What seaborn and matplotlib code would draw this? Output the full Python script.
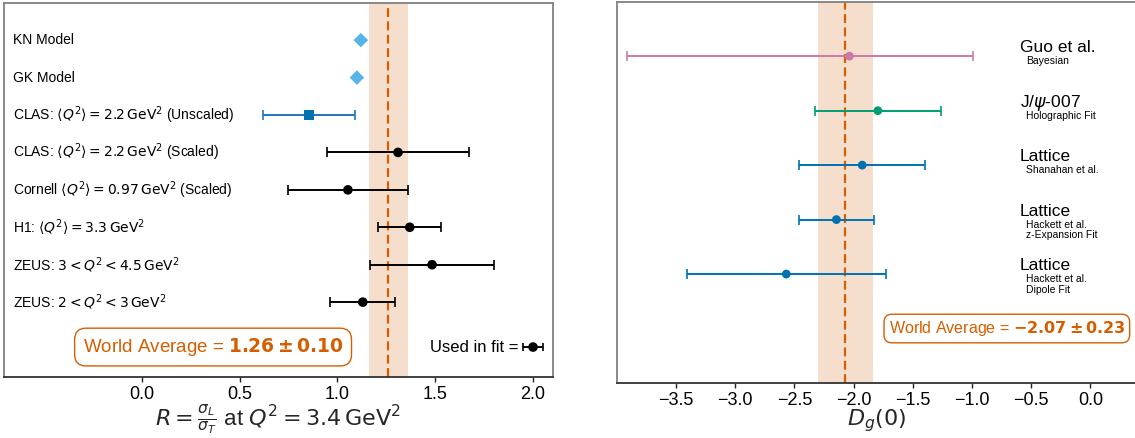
import numpy as np
import pandas as pd
import matplotlib
matplotlib.use("Agg")
import matplotlib.pyplot as plt
import seaborn as sns

# ---------------- data ----------------
left_labels = [
    "KN Model",
    "GK Model",
    r"CLAS: $\langle Q^2\rangle = 2.2\,\mathrm{GeV}^2$ (Unscaled)",
    r"CLAS: $\langle Q^2\rangle = 2.2\,\mathrm{GeV}^2$ (Scaled)",
    r"Cornell $\langle Q^2\rangle = 0.97\,\mathrm{GeV}^2$ (Scaled)",
    r"H1: $\langle Q^2\rangle = 3.3\,\mathrm{GeV}^2$",
    r"ZEUS: $3 < Q^2 < 4.5\,\mathrm{GeV}^2$",
    r"ZEUS: $2 < Q^2 < 3\,\mathrm{GeV}^2$",
]
left_values = [1.12, 1.10, 0.855, 1.31, 1.054, 1.37, 1.484, 1.13]
left_errors = [np.nan, np.nan, 0.235, 0.365, 0.308, 0.16, 0.316, 0.167]
left_kind = ["Model", "Model", "Unscaled", "Fit", "Fit", "Fit", "Fit", "Fit"]
left_avg, left_avg_err = 1.26, 0.10
legend_value, legend_err = 2.0, 0.05

right_main = ["Guo et al.", r"J/$\psi$-007", "Lattice", "Lattice", "Lattice"]
right_sub = ["Bayesian", "Holographic Fit", "Shanahan et al.",
             "Hackett et al.\nz-Expansion Fit", "Hackett et al.\nDipole Fit"]
right_values = [-2.035, -1.795, -1.927, -2.145, -2.568]
right_err_lo = [1.88, 0.53, 0.53, 0.32, 0.84]
right_err_hi = [1.04, 0.53, 0.53, 0.32, 0.84]
right_group = ["Guo", "Jpsi", "Lattice", "Lattice", "Lattice"]
right_avg, right_avg_err = -2.07, 0.23

left_ticks = [0.0, 0.5, 1.0, 1.5, 2.0]
right_ticks = [-3.5, -3.0, -2.5, -2.0, -1.5, -1.0, -0.5, 0.0]

# ---------------- style ----------------
sns.set_theme(style="white")
plt.rcParams["font.family"] = ["Liberation Sans", "DejaVu Sans"]
plt.rcParams["mathtext.fontset"] = "dejavusans"

ORANGE = "#D55E00"
SKY = "#56B4E9"
BLUE = "#0072B2"
GREEN = "#009E73"
PINK = "#CC79A7"

W, H = 1135, 438
fig = plt.figure(figsize=(W / 100, H / 100), dpi=100)

def frac(x0, y0, x1, y1):
    return [x0 / W, 1 - y1 / H, (x1 - x0) / W, (y1 - y0) / H]

axL = fig.add_axes(frac(3.5, 2.7, 553, 377))
axR = fig.add_axes(frac(616.7, 1.7, 1137.0, 383))

for ax in (axL, axR):
    for s in ("left", "top", "right"):
        ax.spines[s].set_color("#808080")
        ax.spines[s].set_linewidth(1.3)
    ax.spines["bottom"].set_color("#333333")
    ax.spines["bottom"].set_linewidth(1.3)
    ax.set_yticks([])
    ax.tick_params(axis="x", direction="out", length=3.5, width=1.0,
                   colors="#222222", labelsize=13, bottom=True, pad=3)
    for lab in ax.get_xticklabels():
        lab.set_color("black")

# ---------------- left panel ----------------
ny = len(left_labels)
left_y = [9 - i for i in range(ny)]
dfL = pd.DataFrame({"x": left_values, "y": left_y, "kind": left_kind,
                    "err": left_errors})

axL.axvspan(left_avg - left_avg_err, left_avg + left_avg_err,
            color=ORANGE, alpha=0.2, lw=0, zorder=0)
axL.axvline(left_avg, color=ORANGE, ls=(0, (4, 2)), lw=1.6, zorder=1)

fit = dfL[dfL.kind == "Fit"]
axL.errorbar(fit.x, fit.y, xerr=fit.err, fmt="none", ecolor="black",
             elinewidth=1.4, capsize=3.5, capthick=1.2, zorder=2)
uns = dfL[dfL.kind == "Unscaled"]
axL.errorbar(uns.x, uns.y, xerr=uns.err, fmt="none", ecolor="#1f78c0",
             elinewidth=1.4, capsize=3.5, capthick=1.2, zorder=2)

sns.scatterplot(data=dfL, x="x", y="y", hue="kind", style="kind",
                palette={"Model": SKY, "Unscaled": BLUE, "Fit": "black"},
                markers={"Model": "D", "Unscaled": "s", "Fit": "o"},
                size="kind", sizes={"Model": 55, "Unscaled": 50, "Fit": 48},
                edgecolor="none", legend=False, ax=axL, zorder=3)

for lab, y in zip(left_labels, left_y):
    axL.text(-0.66, y, lab, ha="left", va="center", fontsize=10, color="black")

# used-in-fit legend
ly = 0.8
axL.errorbar([legend_value], [ly], xerr=[legend_err], fmt="none",
             ecolor="black", elinewidth=1.4, capsize=3, capthick=1.2, zorder=2)
sns.scatterplot(x=[legend_value], y=[ly], color="black", s=48,
                edgecolor="none", legend=False, ax=axL, zorder=3)
axL.text(1.925, ly, "Used in fit =", ha="right", va="center", fontsize=12,
         color="black")

axL.text(0.365, ly,
         r"World Average = $\mathbf{%.2f \pm %.2f}$" % (left_avg, left_avg_err),
         ha="center", va="center", fontsize=13.5, color=ORANGE,
         bbox=dict(boxstyle="round,pad=0.42,rounding_size=0.6", fc="white",
                   ec=ORANGE, lw=1.0))

axL.set_xlim(-0.706, 2.102)
axL.set_ylim(0, 10)
axL.set_xticks(left_ticks)
axL.set_xticklabels([f"{t:.1f}" for t in left_ticks])
axL.set_xlabel(r"$R = \frac{\sigma_L}{\sigma_T}$ at $Q^2 = 3.4\,\mathrm{GeV}^2$",
               fontsize=16, labelpad=-1)
axL.set_ylabel("")

# ---------------- right panel ----------------
right_y = [5 - i for i in range(len(right_main))]
dfR = pd.DataFrame({"x": right_values, "y": right_y, "group": right_group,
                    "lo": right_err_lo, "hi": right_err_hi})
palR = {"Guo": PINK, "Jpsi": GREEN, "Lattice": BLUE}

axR.axvspan(right_avg - right_avg_err, right_avg + right_avg_err,
            color=ORANGE, alpha=0.2, lw=0, zorder=0)
axR.axvline(right_avg, color=ORANGE, ls=(0, (4, 2)), lw=1.6, zorder=1)

for _, r in dfR.iterrows():
    axR.errorbar([r.x], [r.y], xerr=[[r.lo], [r.hi]], fmt="none",
                 ecolor=palR[r.group], elinewidth=1.4, capsize=3.5,
                 capthick=1.2, zorder=2)
sns.scatterplot(data=dfR, x="x", y="y", hue="group", palette=palR, s=40,
                edgecolor="none", legend=False, ax=axR, zorder=3)

for m, sub, y in zip(right_main, right_sub, right_y):
    axR.text(-0.595, y + 0.07, m, ha="left", va="baseline", fontsize=12.5,
             color="black")
    axR.text(-0.545, y + 0.0, sub, ha="left", va="top", fontsize=7.5,
             color="black", linespacing=1.1)

axR.text(-0.706, 0.0,
         r"World Average = $\mathbf{%.2f \pm %.2f}$" % (right_avg, right_avg_err),
         ha="center", va="center", fontsize=11.5, color=ORANGE,
         bbox=dict(boxstyle="round,pad=0.3,rounding_size=0.5", fc="white",
                   ec=ORANGE, lw=1.0))

axR.set_xlim(-4.0, 0.393)
axR.set_ylim(-1, 6)
axR.set_xticks(right_ticks)
axR.set_xticklabels([f"{t:.1f}".replace("-", "\u2212") for t in right_ticks])
axR.set_xlabel(r"$D_g(0)$", fontsize=16, labelpad=-1)
axR.set_ylabel("")

fig.savefig("out.png", dpi=100)
